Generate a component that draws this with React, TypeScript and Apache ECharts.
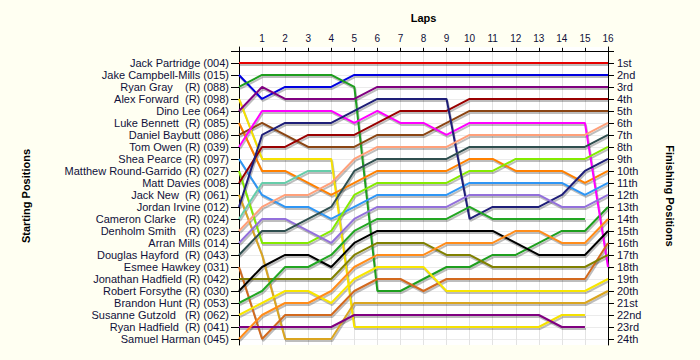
import React, { useEffect, useRef } from 'react';
import * as echarts from 'echarts';

const laps = [0, 1, 2, 3, 4, 5, 6, 7, 8, 9, 10, 11, 12, 13, 14, 15, 16];

const startLabels = [
  'Jack Partridge (004)',
  'Jake Campbell-Mills (015)',
  'Ryan Gray    (R) (088)',
  'Alex Forward  (R) (098)',
  'Dino Lee (064)',
  'Luke Bennett  (R) (085)',
  'Daniel Baybutt (086)',
  'Tom Owen (R) (039)',
  'Shea Pearce (R) (097)',
  'Matthew Round-Garrido (R) (027)',
  'Matt Davies (008)',
  'Jack New  (R) (061)',
  'Jordan Irvine (012)',
  'Cameron Clarke   (R) (024)',
  'Denholm Smith   (R) (023)',
  'Arran Mills (014)',
  'Douglas Hayford  (R) (043)',
  'Esmee Hawkey (031)',
  'Jonathan Hadfield (R) (042)',
  'Robert Forsythe (R) (030)',
  'Brandon Hunt (R) (053)',
  'Susanne Gutzold   (R) (062)',
  'Ryan Hadfield  (R) (041)',
  'Samuel Harman (045)',
];

const finishLabels = [
  '1st', '2nd', '3rd', '4th', '5th', '6th', '7th', '8th', '9th', '10th', '11th', '12th',
  '13th', '14th', '15th', '16th', '17th', '18th', '19th', '20th', '21st', '22nd', '23rd', '24th',
];

const rowTicks = [0, 1, 2, 3, 4, 5, 6, 7, 8, 9, 10, 11, 12, 13, 14, 15, 16, 17, 18, 19, 20, 21, 22, 23, 24];
const rowLabels = [1, 2, 3, 4, 5, 6, 7, 8, 9, 10, 11, 12, 13, 14, 15, 16, 17, 18, 19, 20, 21, 22, 23, 24];

// position of each driver after each lap (lap 0 = start); null = retired
const posPartridge = [1, 1, 1, 1, 1, 1, 1, 1, 1, 1, 1, 1, 1, 1, 1, 1, 1];
const posCampbellMills = [2, 4, 3, 3, 3, 2, 2, 2, 2, 2, 2, 2, 2, 2, 2, 2, 2];
const posGray = [3, 2, 2, 2, 2, 3, 20, 20, 19, 18, 18, 17, 17, 16, 15, 15, 13];
const posForward = [4, 9, 9, 9, 9, 23, 23, 23, 23, 23, 23, 23, 23, 23, 22, 22, null];
const posLee = [5, 3, 4, 4, 4, 4, 3, 3, 3, 3, 3, 3, 3, 3, 3, 3, 3];
const posBennett = [6, 10, 10, 11, 12, 11, 10, 10, 10, 10, 9, 9, 10, 10, 10, 11, 10];
const posBaybutt = [7, 6, 7, 8, 8, 8, 7, 7, 7, 6, 5, 5, 5, 5, 5, 5, 5];
const posOwen = [8, 5, 5, 5, 5, 6, 5, 6, 6, 7, 6, 6, 6, 6, 6, 6, 18];
const posPearce = [9, 12, 13, 13, 14, 13, 12, 12, 12, 12, 11, 11, 11, 11, 11, 12, 11];
const posRoundGarrido = [10, 16, 16, 16, 15, 12, 11, 11, 11, 11, 10, 10, 9, 9, 9, 9, 8];
const posDavies = [11, 8, 8, 7, 7, 7, 6, 5, 5, 5, 4, 4, 4, 4, 4, 4, 4];
const posNew = [12, 17, 24, 24, 24, 21, 21, 21, 21, 21, 21, 21, 21, 21, 21, 21, 20];
const posIrvine = [13, 7, 6, 6, 6, 5, 4, 4, 4, 4, 14, 13, 13, 13, 12, 10, 9];
const posClarke = [14, 11, 11, 10, 10, null, null, null, null, null, null, null, null, null, null, null, null];
const posSmith = [15, 13, 12, 12, 11, 9, 8, 8, 8, 8, 7, 7, 7, 7, 7, 7, 6];
const posMills = [16, 14, 14, 15, 16, 14, 13, 13, 13, 13, 12, 12, 12, 12, 13, 13, 12];
const posHayford = [17, 15, 15, 14, 13, 10, 9, 9, 9, 9, 8, 8, 8, 8, 8, 8, 7];
const posHawkey = [18, 24, 22, 22, 22, 20, 19, 19, 20, 19, 19, 19, 19, 19, 19, 19, 16];
const posJHadfield = [19, 19, 19, 19, 19, 17, 16, 16, 16, 17, 17, 18, 18, 18, 18, 18, 17];
const posForsythe = [20, 18, 17, 17, 18, 16, 15, 15, 15, 15, 15, 15, 16, 17, 17, 17, 15];
const posHunt = [21, 20, 18, 18, 17, 15, 14, 14, 14, 14, 13, 14, 14, 14, 14, 14, null];
const posGutzold = [22, 21, 20, 20, 21, 19, 18, 18, 18, 20, 20, 20, 20, 20, 20, 20, 19];
const posRHadfield = [23, 23, 23, 23, 23, 22, 22, 22, 22, 22, 22, 22, 22, 22, 23, 23, null];
const posHarman = [24, 22, 21, 21, 20, 18, 17, 17, 17, 16, 16, 16, 15, 15, 16, 16, 14];

const driverPositions = [
  posPartridge, posCampbellMills, posGray, posForward, posLee, posBennett, posBaybutt, posOwen,
  posPearce, posRoundGarrido, posDavies, posNew, posIrvine, posClarke, posSmith, posMills,
  posHayford, posHawkey, posJHadfield, posForsythe, posHunt, posGutzold, posRHadfield, posHarman,
];

const driverColors = [
  '#E60000', '#0000E0', '#1E9E1E', '#F5E100', '#800080', '#FF8000', '#8B4513', '#FF00FF',
  '#2E96F5', '#84EA00', '#990000', '#DAA520', '#1E1E78', '#66CDAA', '#FFA07A', '#9370DB',
  '#2F4F4F', '#D2691E', '#808000', '#000000', '#22A622', '#F8E600', '#800080', '#FF8C1A',
];

const FONT = 'Liberation Sans, Arial, sans-serif';
const TEXT = '#10103A';
const Y_MIN = -0.33;
const Y_MAX = 24.5;

export default function App() {
  const ref = useRef<HTMLDivElement>(null);
  useEffect(() => {
    if (!ref.current) return;
    const chart = echarts.init(ref.current, undefined, { renderer: 'svg' });

    const toData = (pos: (number | null)[]) =>
      laps.filter((_, k) => pos[k] != null).map((lap) => [lap, pos[lap]]);

    const shadowSeries = driverPositions.map((pos, i) => ({
      type: 'line',
      name: 'shadow ' + startLabels[i],
      xAxisIndex: 1,
      yAxisIndex: 2,
      data: toData(pos),
      symbol: 'none',
      silent: true,
      lineStyle: { color: 'rgba(0,0,0,0.26)', width: 2 },
      z: 2,
    }));

    const lineSeries = driverPositions.map((pos, i) => ({
      type: 'line',
      name: startLabels[i],
      xAxisIndex: 0,
      yAxisIndex: 0,
      data: toData(pos),
      symbol: 'none',
      silent: true,
      lineStyle: { color: driverColors[i], width: 2 },
      z: 3,
    }));

    const yBase = {
      type: 'value',
      inverse: true,
      min: Y_MIN,
      max: Y_MAX,
      axisLine: { show: true, lineStyle: { color: '#000', width: 1 } },
      splitLine: { show: true, customValues: rowTicks, lineStyle: { color: '#EBEBEB', width: 1 } },
    };

    chart.setOption({
      animation: false,
      backgroundColor: '#FFFFF2',
      textStyle: { fontFamily: FONT },
      grid: [
        {
          left: 239,
          right: 92,
          top: 47,
          bottom: 15,
          show: true,
          backgroundColor: '#FFFFFF',
          borderWidth: 0,
        },
        {
          left: 240,
          right: 91,
          top: 49,
          bottom: 13,
          show: false,
        },
      ],
      xAxis: [
        {
          type: 'value',
          gridIndex: 0,
          position: 'top',
          min: 0,
          max: 16,
          interval: 1,
          axisLine: { show: true, lineStyle: { color: '#000', width: 1 } },
          axisTick: { show: true, length: 3, lineStyle: { color: '#000' } },
          axisLabel: {
            margin: 4,
            fontSize: 10,
            color: TEXT,
            fontFamily: FONT,
            formatter: (v: number) => (v === 0 ? '' : String(v)),
          },
          splitLine: { show: true, lineStyle: { color: '#E3E3E3', width: 1 } },
          name: 'Laps',
          nameLocation: 'middle',
          nameGap: 24,
          nameTextStyle: { fontWeight: 'bold', fontSize: 11, color: '#000', fontFamily: FONT },
        },
        {
          type: 'value',
          gridIndex: 1,
          min: 0,
          max: 16,
          show: false,
        },
      ],
      yAxis: [
        {
          ...yBase,
          gridIndex: 0,
          position: 'left',
          axisTick: { show: true, length: 8, customValues: rowTicks, lineStyle: { color: '#000' } },
          axisLabel: {
            customValues: rowLabels,
            margin: 10,
            fontSize: 11,
            color: TEXT,
            fontFamily: FONT,
            formatter: (v: number) => startLabels[v - 1] ?? '',
          },
          name: 'Starting Positions',
          nameLocation: 'middle',
          nameRotate: 90,
          nameGap: 208,
          nameTextStyle: { fontWeight: 'bold', fontSize: 11, color: '#000', fontFamily: FONT },
        },
        {
          ...yBase,
          gridIndex: 0,
          position: 'right',
          splitLine: { show: false },
          axisTick: { show: true, length: 6, customValues: rowTicks, lineStyle: { color: '#000' } },
          axisLabel: {
            customValues: rowLabels,
            margin: 9,
            fontSize: 11,
            color: TEXT,
            fontFamily: FONT,
            formatter: (v: number) => finishLabels[v - 1] ?? '',
          },
          name: 'Finishing Positions',
          nameLocation: 'middle',
          nameRotate: -90,
          nameGap: 56,
          nameTextStyle: { fontWeight: 'bold', fontSize: 11, color: '#000', fontFamily: FONT },
        },
        {
          type: 'value',
          gridIndex: 1,
          inverse: true,
          min: Y_MIN,
          max: Y_MAX,
          show: false,
        },
      ],
      series: [...shadowSeries, ...lineSeries],
    });

    return () => chart.dispose();
  }, []);

  return (
    <div
      ref={ref}
      style={{ position: 'fixed', left: 0, top: 0, width: 700, height: 360 }}
    />
  );
}
